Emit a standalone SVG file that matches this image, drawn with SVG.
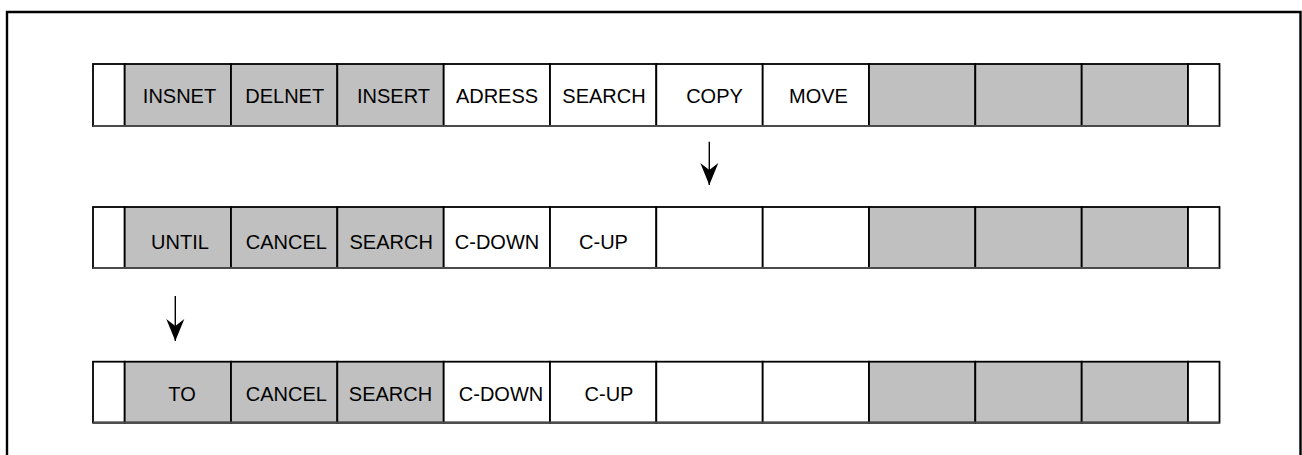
<svg xmlns="http://www.w3.org/2000/svg" width="1302" height="455" viewBox="0 0 1302 455">
<style>
.g{fill:#c0c0c0}
.w{fill:#ffffff}
.c{stroke:#000;stroke-width:1.8}
.b{stroke:#4a4a4a;stroke-width:2.2;fill:none}
text{font-family:"Liberation Sans",Arial,Helvetica,sans-serif;font-size:20px;fill:#000;text-anchor:middle}
.arr{stroke:#000;stroke-width:1.4;fill:none;marker-end:url(#ah)}
</style>
<defs>
<marker id="ah" markerUnits="userSpaceOnUse" orient="auto" markerWidth="24" markerHeight="20" viewBox="0 -10 24 20" refX="22" refY="0">
<path d="M22,0 L0,-9 L7,0 L0,9 Z" fill="#000"/>
</marker>
</defs>
<rect width="1302" height="455" fill="#fff"/>
<path d="M7,456 V12 H1300.5 V456" fill="none" stroke="#000" stroke-width="2.4"/>

<g id="row1">
<rect class="w c" x="93" y="64" width="31.7" height="62"/>
<rect class="g c" x="124.7" y="64" width="106.3" height="62"/>
<rect class="g c" x="231" y="64" width="106.3" height="62"/>
<rect class="g c" x="337.3" y="64" width="106.4" height="62"/>
<rect class="w c" x="443.7" y="64" width="106.3" height="62"/>
<rect class="w c" x="550" y="64" width="106.3" height="62"/>
<rect class="w c" x="656.3" y="64" width="106.4" height="62"/>
<rect class="w c" x="762.7" y="64" width="106.3" height="62"/>
<rect class="g c" x="869" y="64" width="106.3" height="62"/>
<rect class="g c" x="975.3" y="64" width="106.4" height="62"/>
<rect class="g c" x="1081.7" y="64" width="106.3" height="62"/>
<rect class="w c" x="1188" y="64" width="31.5" height="62"/>
<line class="b" x1="93" y1="126" x2="1219.5" y2="126"/>
<text x="179.5" y="103.3">INSNET</text>
<text x="284.7" y="103.3">DELNET</text>
<text x="393.5" y="103.3">INSERT</text>
<text x="497" y="103.3">ADRESS</text>
<text x="604" y="103.3">SEARCH</text>
<text x="714.5" y="103.3">COPY</text>
<text x="818.5" y="103.3">MOVE</text>
</g>

<g id="row2">
<rect class="w c" x="93" y="207" width="31.7" height="61"/>
<rect class="g c" x="124.7" y="207" width="106.3" height="61"/>
<rect class="g c" x="231" y="207" width="106.3" height="61"/>
<rect class="g c" x="337.3" y="207" width="106.4" height="61"/>
<rect class="w c" x="443.7" y="207" width="106.3" height="61"/>
<rect class="w c" x="550" y="207" width="106.3" height="61"/>
<rect class="w c" x="656.3" y="207" width="106.4" height="61"/>
<rect class="w c" x="762.7" y="207" width="106.3" height="61"/>
<rect class="g c" x="869" y="207" width="106.3" height="61"/>
<rect class="g c" x="975.3" y="207" width="106.4" height="61"/>
<rect class="g c" x="1081.7" y="207" width="106.3" height="61"/>
<rect class="w c" x="1188" y="207" width="31.5" height="61"/>
<line class="b" x1="93" y1="268" x2="1219.5" y2="268"/>
<text x="180" y="249.3">UNTIL</text>
<text x="286.3" y="249.3">CANCEL</text>
<text x="391.2" y="249.3">SEARCH</text>
<text x="497" y="249.3">C-DOWN</text>
<text x="603.5" y="249.3">C-UP</text>
</g>

<g id="row3">
<rect class="w c" x="93" y="361.7" width="31.7" height="61"/>
<rect class="g c" x="124.7" y="361.7" width="106.3" height="61"/>
<rect class="g c" x="231" y="361.7" width="106.3" height="61"/>
<rect class="g c" x="337.3" y="361.7" width="106.4" height="61"/>
<rect class="w c" x="443.7" y="361.7" width="106.3" height="61"/>
<rect class="w c" x="550" y="361.7" width="106.3" height="61"/>
<rect class="w c" x="656.3" y="361.7" width="106.4" height="61"/>
<rect class="w c" x="762.7" y="361.7" width="106.3" height="61"/>
<rect class="g c" x="869" y="361.7" width="106.3" height="61"/>
<rect class="g c" x="975.3" y="361.7" width="106.4" height="61"/>
<rect class="g c" x="1081.7" y="361.7" width="106.3" height="61"/>
<rect class="w c" x="1188" y="361.7" width="31.5" height="61"/>
<line class="b" x1="93" y1="422.7" x2="1219.5" y2="422.7"/>
<text x="182" y="400.5">TO</text>
<text x="286.3" y="400.5">CANCEL</text>
<text x="390.5" y="400.5">SEARCH</text>
<text x="501" y="400.5">C-DOWN</text>
<text x="609" y="400.5">C-UP</text>
</g>

<g id="connectors">
<path class="arr" d="M709.3,141.7 V185"/>
<path class="arr" d="M175.3,296 V341"/>
</g>
</svg>
